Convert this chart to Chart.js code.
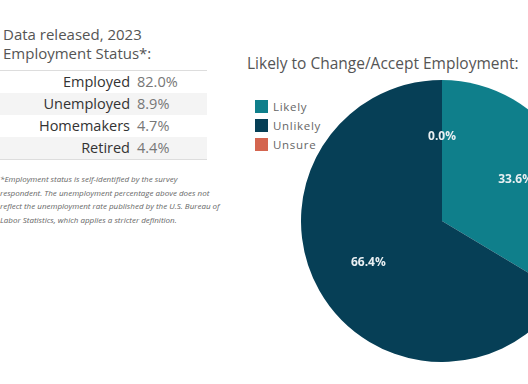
<!DOCTYPE html>
<html>
<head>
<meta charset="utf-8">
<script src="https://cdn.jsdelivr.net/npm/chart.js@4.4.1/dist/chart.umd.min.js"></script>
<style>
  html, body { margin: 0; padding: 0; background: #fff; overflow: hidden; width: 528px; height: 384px; }
  body { position: relative; font-family: "Open Sans", "Noto Sans", sans-serif; color: #555; }
  .head { position: absolute; left: 3px; font-size: 15px; color: #555; white-space: nowrap; }
  table.status { position: absolute; left: 0; top: 70px; width: 207px; border-collapse: collapse;
    border-top: 1px solid #ddd; border-bottom: 1px solid #ddd; font-size: 14.5px; }
  table.status td { height: 22px; padding: 0; line-height: 22px; }
  table.status tr:nth-child(even) td { background: #f4f4f4; }
  table.status td.lab { text-align: right; color: #333; width: 130px; padding-right: 7px; }
  table.status td.val { color: #777; }
  .note { position: absolute; left: 0; top: 172px; width: 230px; font-size: 8px; line-height: 13.6px;
    font-style: italic; color: #666; white-space: nowrap; }
  .title { position: absolute; left: 247px; top: 52px; font-size: 15.5px; color: #555; white-space: nowrap; }
  #legend { position: absolute; left: 255px; top: 100px; font-size: 11.5px; color: #666; letter-spacing: 0.7px; }
  #legend div { height: 19px; line-height: 14px; white-space: nowrap; }
  #legend span.sw { display: inline-block; width: 13px; height: 13px; vertical-align: top; margin-right: 5px; }
  #pieWrap { position: absolute; left: 301px; top: 80px; width: 282px; height: 282px; }
</style>
</head>
<body>
<div class="head" style="top:24px">Data released, 2023</div>
<div class="head" style="top:43px">Employment Status*:</div>
<table class="status" id="statusTable"></table>
<div class="note">
*Employment status is self-identified by the survey<br>
respondent. The unemployment percentage above does not<br>
reflect the unemployment rate published by the U.S. Bureau of<br>
Labor Statistics, which applies a stricter definition.
</div>
<div class="title">Likely to Change/Accept Employment:</div>
<div id="legend"></div>
<div id="pieWrap"><canvas id="pie" width="282" height="282"></canvas></div>
<script>
// employment status table
const statusLabels = ["Employed", "Unemployed", "Homemakers", "Retired"];
const statusValues = [82.0, 8.9, 4.7, 4.4];

// pie
const pieLabels = ["Likely", "Unlikely", "Unsure"];
const pieValues = [33.6, 66.4, 0.0];
const pieColors = ["#0f7f8b", "#063f56", "#d4654f"];

const tbl = document.getElementById("statusTable");
statusLabels.forEach((lab, i) => {
  const tr = document.createElement("tr");
  tr.innerHTML = `<td class="lab">${lab}</td><td class="val">${statusValues[i].toFixed(1)}%</td>`;
  tbl.appendChild(tr);
});

// draw percentage labels inside slices
const sliceLabels = {
  id: "sliceLabels",
  afterDatasetsDraw(chart) {
    const ctx = chart.ctx;
    const meta = chart.getDatasetMeta(0);
    ctx.save();
    ctx.font = "bold 12px 'Open Sans', sans-serif";
    ctx.fillStyle = "#e9eff2";
    ctx.textAlign = "center";
    ctx.textBaseline = "middle";
    meta.data.forEach((arc, i) => {
      const { x, y, startAngle, endAngle, outerRadius } = arc.getProps(["x", "y", "startAngle", "endAngle", "outerRadius"], true);
      const mid = (startAngle + endAngle) / 2;
      const r = outerRadius * 0.6;
      ctx.fillText(chart.data.datasets[0].data[i].toFixed(1) + "%", x + Math.cos(mid) * r, y + Math.sin(mid) * r);
    });
    ctx.restore();
  }
};

const chart = new Chart(document.getElementById("pie"), {
  type: "pie",
  data: {
    labels: pieLabels,
    datasets: [{ data: pieValues, backgroundColor: pieColors, borderWidth: 0 }]
  },
  options: {
    responsive: false,
    animation: false,
    layout: { padding: 0 },
    plugins: { legend: { display: false }, tooltip: { enabled: false } }
  },
  plugins: [sliceLabels]
});

// html legend from chart data
const legend = document.getElementById("legend");
chart.data.labels.forEach((lab, i) => {
  const d = document.createElement("div");
  d.innerHTML = `<span class="sw" style="background:${chart.data.datasets[0].backgroundColor[i]}"></span>${lab}`;
  legend.appendChild(d);
});
</script>
</body>
</html>
